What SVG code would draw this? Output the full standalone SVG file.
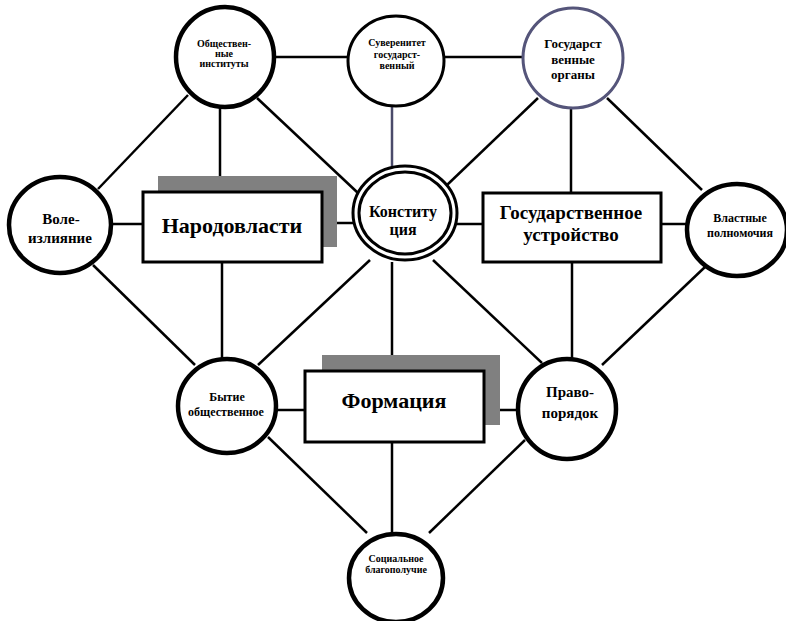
<svg xmlns="http://www.w3.org/2000/svg" width="786" height="621" viewBox="0 0 786 621">
<style>
.ln{stroke:#000;stroke-width:2.5;fill:none}
.lp{stroke:#4a4a6a;stroke-width:2.5;fill:none}
.c{fill:#fff;stroke:#000;stroke-width:4.5}
.c3{fill:#fff;stroke:#000;stroke-width:3}
.box{fill:#fff;stroke:#000;stroke-width:3}
.sh{fill:#808080}
text{font-family:"Liberation Serif","Times New Roman",serif;font-weight:bold;fill:#000;text-anchor:middle}
.s{font-size:10px}
.m{font-size:12px}
.l{font-size:15px}
.big{font-size:22px}
</style>
<rect width="786" height="621" fill="#fff"/>
<g id="connectors">
<line class="ln" x1="270" y1="57" x2="350" y2="57"/>
<line class="ln" x1="440" y1="57" x2="525" y2="57"/>
<line class="ln" x1="188" y1="95" x2="98" y2="189"/>
<line class="ln" x1="220" y1="105" x2="220" y2="192"/>
<line class="ln" x1="257" y1="98" x2="358" y2="193"/>
<line class="lp" x1="392" y1="105" x2="392" y2="168"/>
<line class="ln" x1="538" y1="98" x2="447" y2="185"/>
<line class="ln" x1="571" y1="106" x2="571" y2="193"/>
<line class="ln" x1="607" y1="98" x2="702" y2="190"/>
<line class="ln" x1="108" y1="224" x2="143" y2="224"/>
<line class="ln" x1="322" y1="223" x2="354" y2="223"/>
<line class="ln" x1="456" y1="224" x2="483" y2="224"/>
<line class="ln" x1="661" y1="224" x2="690" y2="224"/>
<line class="ln" x1="93" y1="265" x2="195" y2="365"/>
<line class="ln" x1="222" y1="262" x2="222" y2="360"/>
<line class="ln" x1="370" y1="260" x2="258" y2="365"/>
<line class="ln" x1="392" y1="262" x2="392" y2="355"/>
<line class="ln" x1="433" y1="260" x2="542" y2="363"/>
<line class="ln" x1="572" y1="262" x2="572" y2="360"/>
<line class="ln" x1="705" y1="267" x2="602" y2="365"/>
<line class="ln" x1="274" y1="410" x2="305" y2="410"/>
<line class="ln" x1="484" y1="410" x2="520" y2="410"/>
<line class="ln" x1="268" y1="437" x2="367" y2="533"/>
<line class="ln" x1="392" y1="442" x2="392" y2="535"/>
<line class="ln" x1="525" y1="440" x2="429" y2="533"/>
</g>
<g id="n-obshch">
<ellipse class="c" cx="225" cy="57" rx="49" ry="50"/>
<text class="s" x="224" y="47">Обществен-</text>
<text class="s" x="224" y="57">ные</text>
<text class="s" x="224" y="67">институты</text>
</g>
<g id="n-suveren">
<ellipse class="c3" cx="396" cy="61" rx="48" ry="45"/>
<text class="s" x="397" y="46">Суверенитет</text>
<text class="s" x="397" y="58">государст-</text>
<text class="s" x="397" y="69">венный</text>
</g>
<g id="n-gosorg">
<circle cx="573" cy="58" r="50" fill="#fff" stroke="#55557a" stroke-width="3"/>
<text style="font-size:13px" x="573" y="48">Государст</text>
<text style="font-size:13px" x="573" y="64">венные</text>
<text style="font-size:13px" x="573" y="79">органы</text>
</g>
<g id="n-vole">
<ellipse class="c" cx="60" cy="225" rx="51" ry="48"/>
<text class="l" x="61" y="224">Воле-</text>
<text class="l" x="60" y="243">излияние</text>
</g>
<g id="n-narod">
<rect class="sh" x="158" y="176" width="179" height="71"/>
<rect class="box" x="143" y="192" width="179" height="70"/>
<text class="big" x="232" y="233">Народовласти</text>
</g>
<g id="n-konst">
<ellipse class="c3" cx="405" cy="213" rx="52" ry="47"/>
<ellipse class="c3" cx="405" cy="213" rx="46" ry="41"/>
<text style="font-size:16px" x="403" y="217">Конститу</text>
<text style="font-size:16px" x="403" y="235">ция</text>
</g>
<g id="n-gosustr">
<rect class="box" x="483" y="193" width="178" height="69"/>
<text style="font-size:19px" x="571" y="219">Государственное</text>
<text style="font-size:19px" x="571" y="241">устройство</text>
</g>
<g id="n-vlast">
<ellipse class="c" cx="737" cy="230" rx="50" ry="46"/>
<text class="m" x="740" y="222">Властные</text>
<text class="m" x="740" y="237">полномочия</text>
</g>
<g id="n-bytie">
<ellipse class="c" cx="227" cy="406" rx="49" ry="47"/>
<text class="m" x="227" y="401">Бытие</text>
<text class="m" x="226" y="416">общественное</text>
</g>
<g id="n-formac">
<rect class="sh" x="322" y="355" width="178" height="70"/>
<rect class="box" x="305" y="371" width="179" height="71"/>
<text class="big" x="394" y="408">Формация</text>
</g>
<g id="n-pravo">
<ellipse class="c" cx="567" cy="409" rx="49" ry="50"/>
<text class="l" x="570" y="397">Право-</text>
<text class="l" x="570" y="418">порядок</text>
</g>
<g id="n-social">
<ellipse class="c" cx="396" cy="578" rx="47" ry="44"/>
<text class="s" x="396" y="562">Социальное</text>
<text class="s" x="396" y="573">благополучие</text>
</g>
</svg>
